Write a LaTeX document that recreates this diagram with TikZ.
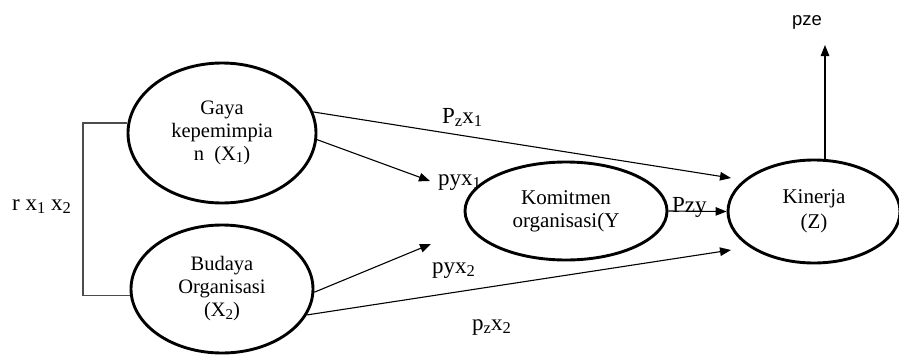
\documentclass[tikz,border=0pt]{standalone}
\usepackage{fontspec}
\setmainfont{Liberation Serif}
\newfontfamily\arialf{Liberation Sans}
\usetikzlibrary{shapes.geometric,arrows.meta}
\newcommand{\nsub}[1]{\raisebox{-0.25ex}{\fontsize{15}{15}\selectfont #1}}
\newcommand{\lsub}[1]{\raisebox{-0.3ex}{\fontsize{16.5}{16.5}\selectfont #1}}
\begin{document}
\begin{tikzpicture}[x=1pt,y=-1pt,
  ell/.style={ellipse,draw,line width=2.9pt,inner sep=0pt,align=center,
    font=\fontsize{20.5}{23}\selectfont},
  conn/.style={line width=1.1pt,-{Triangle[length=11pt,width=8.5pt]}},
  lbl/.style={inner sep=0pt,anchor=base west,font=\fontsize{23}{23}\selectfont},
  brk/.style={line width=1.2pt,draw=black!70}]
\useasboundingbox (0,0) rectangle (899,356);
% ellipses
\node[ell,minimum width=188pt,minimum height=140pt] (x1) at (222,133)
  {Gaya\\kepemimpia\\n\ \ (X\nsub{1})};
\node[ell,minimum width=182pt,minimum height=128pt] (x2) at (222,289)
  {Budaya\\Organisasi\\(X\nsub{2})};
\node[ell,minimum width=202pt,minimum height=98pt,font=\fontsize{21}{23}\selectfont] (y) at (566,211)
  {Komitmen\\organisasi(Y};
\node[ell,minimum width=172pt,minimum height=103pt,font=\fontsize{21}{25}\selectfont] (z) at (814,211.5)
  {Kinerja\\(Z)};
% free ends
\coordinate (t1) at (430,181);
\coordinate (t2) at (731,178);
\coordinate (t3) at (431,244);
\coordinate (t4) at (731,250);
\coordinate (tp) at (825,45);
\coordinate (bk) at (83,0);
% connectors
\draw[conn] (x1.-4) -- (t1);
\draw[conn] (x1.13) -- (t2);
\draw[conn] (x2.-2) -- (t3);
\draw[conn] (x2.-17) -- (t4);
\draw[conn] (y.east) -- (z.west);
\draw[conn] (z.north -| tp) -- (tp);
\draw[brk] (x1.174) -- (x1.174 -| bk) -- (x2.184 -| bk) -- (x2.184);
% labels
\node[lbl] (lpzx1) at (442,123) {P\lsub{z}x\lsub{1}};
\node[lbl] (lpyx1) at (438,185) {pyx\lsub{1}};
\node[lbl] (lpyx2) at (432,273) {pyx\lsub{2}};
\node[lbl] (lpzx2) at (472,330) {p\lsub{z}x\lsub{2}};
\node[lbl] (lpzy) at (672,212) {Pzy};
\node[lbl] (lr) at (12,210) {r x\lsub{1} x\lsub{2}};
\node[inner sep=0pt,anchor=base,font=\arialf\fontsize{18.5}{18.5}\selectfont] (lpze) at (807,25) {pze};
\end{tikzpicture}
\end{document}
